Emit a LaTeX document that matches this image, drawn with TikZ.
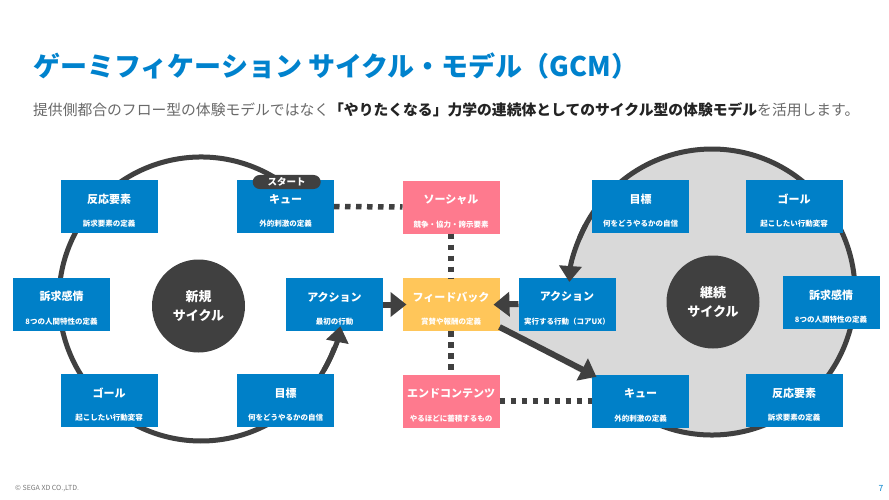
\documentclass[tikz,border=0pt]{standalone}
\usepackage{fontspec}
\setmainfont{Noto Sans CJK JP}
\usetikzlibrary{arrows.meta}
\definecolor{gblue}{RGB}{0,128,200}
\definecolor{tblue}{RGB}{0,130,205}
\definecolor{gpink}{RGB}{254,122,142}
\definecolor{gyellow}{RGB}{255,198,90}
\definecolor{dk}{RGB}{64,64,64}
\definecolor{ltgray}{RGB}{217,217,217}
\definecolor{sgray}{RGB}{105,105,105}
\definecolor{sdark}{RGB}{35,35,35}
\definecolor{fgray}{RGB}{120,120,120}
\newcommand\gcbox[6]{%
  \node[gbox, fill=#4] (#1) at (#2,#3) {};
  \node[btitle] (#1t) at ([yshift=7.5pt]#1.center) {#5};
  \node[bsub] (#1s) at ([yshift=-17.5pt]#1.center) {#6};}
\begin{document}
\begin{tikzpicture}[x=1pt,y=-1pt,
  gbox/.style={minimum width=97pt, minimum height=53pt, inner sep=0pt, outer sep=0pt, draw=none},
  btitle/.style={text=white, font=\fontsize{11}{13}\selectfont\bfseries, inner sep=0pt},
  bsub/.style={text=white, font=\fontsize{7.5}{9}\selectfont\bfseries, inner sep=0pt},
  ring/.style={draw=dk, line width=5pt},
  dotline/.style={draw=dk, line width=5.5pt, dash pattern=on 5.5pt off 5.5pt},
  bigarrow/.style={draw=dk, line width=6pt, -{Triangle[length=16pt,width=24pt]}},
  ringarrow/.style={draw=dk, line width=5pt, -{Triangle[length=16pt,width=22pt]}},
  cycle/.style={circle, fill=dk, minimum size=93pt, inner sep=0pt, text=white, align=center, font=\fontsize{13}{19}\selectfont\bfseries},
  pill/.style={fill=dk, rounded corners=7pt, minimum width=68pt, minimum height=14pt, inner sep=0pt, text=white, font=\fontsize{9.5}{11}\selectfont\bfseries}
]
\fill[white] (0,0) rectangle (889,500);
\path[use as bounding box] (0,0) rectangle (889,500);

\coordinate (rl) at (201,299);
\coordinate (rr) at (712,292);

% gray disc of the continuation cycle
\fill[ltgray] (rr) circle[radius=143pt];
\fill[ltgray] (499,306) -- (585,306) -- (597,382) -- (499,327) -- cycle;

% rings
\draw[ring] (rl) ++(58:142pt) arc[start angle=58, end angle=340, radius=142pt];
\draw[ring] (rr) ++(235:143pt) arc[start angle=235, end angle=518, radius=143pt];

% dark cycle circles
\node[cycle] (cl) at (198.5,306) {新規\\サイクル};
\node[cycle] (cr) at (713,302) {継続\\サイクル};

% boxes: left cycle
\gcbox{lreact}{109}{206.5}{gblue}{反応要素}{訴求要素の定義}
\gcbox{lcue}{285.5}{206.5}{gblue}{キュー}{外的刺激の定義}
\gcbox{lappeal}{61.5}{304}{gblue}{訴求感情}{8つの人間特性の定義}
\gcbox{lact}{334.5}{304.5}{gblue}{アクション}{最初の行動}
\gcbox{lgoal}{109}{400.5}{gblue}{ゴール}{起こしたい行動変容}
\gcbox{ltarget}{285.5}{400.5}{gblue}{目標}{何をどうやるかの自信}
% center column
\gcbox{soc}{451}{207}{gpink}{ソーシャル}{競争・協力・誇示要素}
\gcbox{fb}{451}{304.5}{gyellow}{フィードバック}{賞賛や報酬の定義}
\gcbox{ec}{451}{401}{gpink}{エンドコンテンツ}{やるほどに蓄積するもの}
% right cycle
\gcbox{rtarget}{640.5}{206.5}{gblue}{目標}{何をどうやるかの自信}
\gcbox{rgoal}{794}{206.5}{gblue}{ゴール}{起こしたい行動変容}
\gcbox{ract}{567}{304}{gblue}{アクション}{実行する行動（コアUX）}
\gcbox{rappeal}{831}{302.5}{gblue}{訴求感情}{8つの人間特性の定義}
\gcbox{rcue}{640.5}{401}{gblue}{キュー}{外的刺激の定義}
\gcbox{rreact}{794}{400.5}{gblue}{反応要素}{訴求要素の定義}

% dotted links
\draw[dotline] (lcue.east) -- (soc.west);
\draw[dotline] (soc.south) -- (fb.north);
\draw[dotline] (fb.south) -- (ec.north);
\draw[dotline] (ec.east) -- (rcue.west);

% arrows
\draw[bigarrow, shorten >=-4pt] (lact.east) -- (fb.west);
\draw[bigarrow, shorten >=-6pt] (ract.west) -- (fb.east);
\draw[bigarrow, shorten >=-5pt] ([yshift=4pt]fb.south east) -- (rcue.north west);
\draw[ringarrow] (rl) ++(330:142pt) arc[start angle=330, end angle=349, radius=142pt];
\draw[ringarrow] (rr) ++(512:143pt) arc[start angle=512, end angle=536, radius=143pt];

% start label
\node[pill] (start) at (286.7,182) {スタート};

% title and lead
\node[anchor=west, inner sep=0pt, text=tblue, font=\fontsize{27}{31}\selectfont\bfseries] (title) at (33,66) {ゲーミフィケーション サイクル・モデル（GCM）};
\node[anchor=west, inner sep=0pt, text=sgray, font=\fontsize{14.8}{17}\selectfont] (lead) at (33,110) {提供側都合のフロー型の体験モデルではなく{\bfseries\color{sdark}「やりたくなる」力学の連続体としてのサイクル型の体験モデル}を活用します。};

% footer
\node[anchor=west, inner sep=0pt, text=fgray, font=\fontsize{7}{8}\selectfont] (copy) at (15,489) {© SEGA XD CO.,LTD.};
\node[inner sep=0pt, text=tblue, font=\fontsize{8.5}{9}\selectfont] (page) at (881,488) {7};
\end{tikzpicture}
\end{document}
